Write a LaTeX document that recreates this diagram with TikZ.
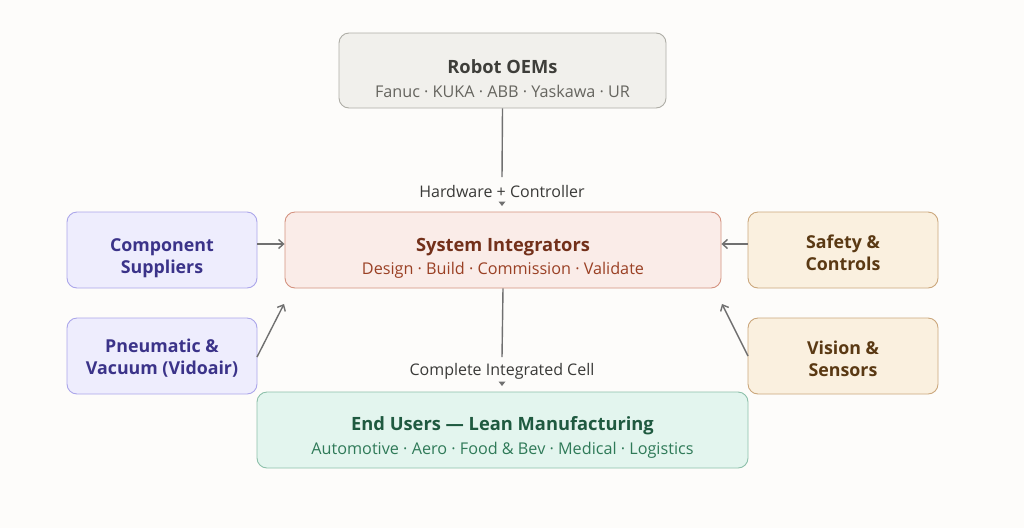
\documentclass[tikz,border=0pt]{standalone}
\usepackage{fontspec}
\setmainfont{Open Sans}
\usetikzlibrary{arrows.meta}
\definecolor{bg}{HTML}{FDFCFA}
\definecolor{oemfill}{HTML}{F1F0EC}\definecolor{oemdraw}{HTML}{AEADA6}
\definecolor{oemtitle}{HTML}{3E3E3A}\definecolor{oemsub}{HTML}{66655F}
\definecolor{sifill}{HTML}{FAECE8}\definecolor{sidraw}{HTML}{D4927F}
\definecolor{sititle}{HTML}{73301A}\definecolor{sisub}{HTML}{9A4024}
\definecolor{cpfill}{HTML}{EEEDFD}\definecolor{cpdraw}{HTML}{ABA6EA}
\definecolor{cptext}{HTML}{3B3389}
\definecolor{sffill}{HTML}{FAF0DF}\definecolor{sfdraw}{HTML}{CBA77C}
\definecolor{sftext}{HTML}{5A3913}
\definecolor{eufill}{HTML}{E3F5EE}\definecolor{eudraw}{HTML}{8DC0AA}
\definecolor{eutitle}{HTML}{1F5A40}\definecolor{eusub}{HTML}{2F7A58}
\definecolor{conn}{HTML}{707070}\definecolor{lbl}{HTML}{3A3A38}
\tikzset{
  box/.style={draw, line width=0.9pt, rounded corners=10pt, inner sep=0pt},
  ttl/.style={font=\fontsize{18.3}{21}\selectfont\bfseries},
  sub/.style={font=\fontsize{16.2}{19}\selectfont},
  side/.style={font=\fontsize{17.8}{22}\selectfont\bfseries, align=center},
  arr/.style={draw=conn, line width=1.4pt, -{Straight Barb[length=5pt,width=9pt]}},
  vline/.style={draw=conn, line width=1.4pt},
  tip/.style={fill=conn, draw=none},
  lab/.style={font=\fontsize{16}{18}\selectfont, text=lbl}
}
\begin{document}
\begin{tikzpicture}[x=1pt,y=-1pt]
\useasboundingbox[fill=bg] (0,0) rectangle (1024,528);
% boxes
\node[box, draw=oemdraw, fill=oemfill, minimum width=327pt, minimum height=75pt] (oem) at (502.5,70.5) {};
\node[box, draw=sidraw, fill=sifill, minimum width=436pt, minimum height=76pt] (si) at (503,250) {};
\node[box, draw=cpdraw, fill=cpfill, minimum width=190pt, minimum height=76pt] (cs) at (162,250) {};
\node[box, draw=cpdraw, fill=cpfill, minimum width=190pt, minimum height=76pt] (pv) at (162,356) {};
\node[box, draw=sfdraw, fill=sffill, minimum width=190pt, minimum height=76pt] (sc) at (843,250) {};
\node[box, draw=sfdraw, fill=sffill, minimum width=190pt, minimum height=76pt] (vs) at (843,356) {};
\node[box, draw=eudraw, fill=eufill, minimum width=491pt, minimum height=76pt] (eu) at (502.5,430) {};
% texts
\node[ttl, text=oemtitle] (oemt) at (502.5,67) {Robot OEMs};
\node[sub, text=oemsub] (oems) at (502.5,91) {Fanuc · KUKA · ABB · Yaskawa · UR};
\node[ttl, text=sititle] (sit) at (503,247) {System Integrators};
\node[sub, text=sisub] (sis) at (503,270) {Design · Build · Commission · Validate};
\node[side, text=cptext] (cst) at (162,258) {Component\\Suppliers};
\node[side, text=cptext] (pvt) at (162,358.5) {Pneumatic \&\\Vacuum (Vidoair)};
\node[side, text=sftext] (sct) at (843,252.5) {Safety \&\\Controls};
\node[side, text=sftext] (vst) at (843,358.5) {Vision \&\\Sensors};
\node[ttl, text=eutitle] (eut) at (502.5,426) {End Users — Lean Manufacturing};
\node[sub, text=eusub] (eus) at (502.5,450) {Automotive · Aero · Food \& Bev · Medical · Logistics};
% vertical flows
\coordinate (a1) at (502,177);
\draw[vline] (oem.south) -- (a1);
\node[lab] (l1) at (502,191.5) {Hardware + Controller};
\fill[tip] (498.5,201.5) -- (505.5,201.5) -- (502,206) -- cycle;
\coordinate (a2) at (502,357);
\draw[vline] (si.south) -- (a2);
\node[lab] (l2) at (502,371) {Complete Integrated Cell};
\fill[tip] (498.5,381.5) -- (505.5,381.5) -- (502,386) -- cycle;
% side arrows
\coordinate (p1) at (257,357);
\coordinate (q1) at (284,304);
\coordinate (p2) at (748,356);
\coordinate (q2) at (722,304);
\draw[arr] (cs.east |- 0,244) -- (si.west |- 0,244);
\draw[arr] (sc.west |- 0,244) -- (si.east |- 0,244);
\draw[arr] (p1) -- (q1);
\draw[arr] (p2) -- (q2);
\end{tikzpicture}
\end{document}
